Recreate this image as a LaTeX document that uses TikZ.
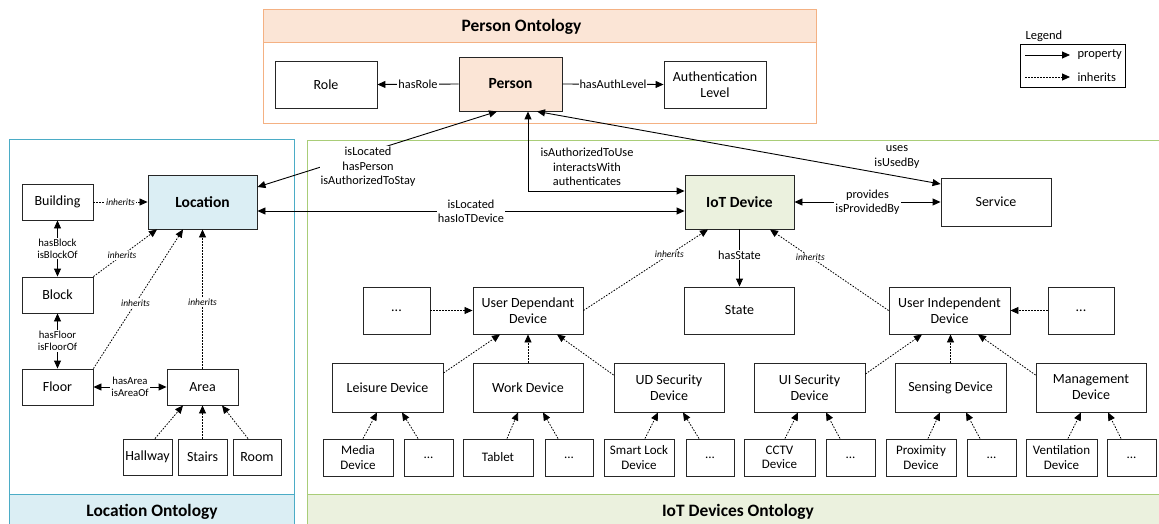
\documentclass[tikz,border=0pt]{standalone}
\usepackage{fontspec}
\setmainfont{Carlito}
\usetikzlibrary{arrows.meta}
\definecolor{perfill}{RGB}{251,229,214}
\definecolor{perline}{RGB}{244,177,131}
\definecolor{locfill}{RGB}{219,238,244}
\definecolor{locline}{RGB}{75,172,198}
\definecolor{iotfill}{RGB}{235,241,222}
\definecolor{iotline}{RGB}{169,205,120}
\tikzset{
  box/.style={draw=black!85, line width=0.9pt, fill=white, align=center, inner sep=1pt, font=\fontsize{14}{16}\selectfont},
  smallbox/.style={box, font=\fontsize{13}{14.5}\selectfont},
  mainbox/.style={box, font=\fontsize{15.5}{18}\selectfont\bfseries},
  prop/.style={line width=0.9pt, -{Triangle[length=8pt,width=7pt]}},
  bprop/.style={line width=0.9pt, {Triangle[length=8pt,width=7pt]}-{Triangle[length=8pt,width=7pt]}},
  inh/.style={line width=0.8pt, dash pattern=on 1.6pt off 1.4pt, -{Triangle[length=8pt,width=7pt]}},
  elab/.style={fill=white, inner sep=1pt, align=center, font=\fontsize{12.3}{14.3}\selectfont},
  slab/.style={fill=white, inner sep=1pt, align=center, font=\fontsize{10.7}{12}\selectfont},
  ilab/.style={fill=white, inner sep=1pt, font=\fontsize{9.5}{10.5}\selectfont\itshape},
  title/.style={font=\fontsize{17.4}{20}\selectfont\bfseries},
  legtext/.style={anchor=west, font=\fontsize{12.5}{14}\selectfont},
}
\begin{document}
\begin{tikzpicture}[x=1pt,y=-1pt]
\useasboundingbox (0,0) rectangle (1159,524);
% frames
\draw[perline, line width=1pt, fill=perfill] (263,10) rectangle (816,43);
\draw[perline, line width=1pt] (263,10) rectangle (816,124);
\node[title] (pertitle) at (521.5,27) {Person Ontology};
\draw[locline, line width=1pt, fill=locfill] (9,494) rectangle (294,530);
\draw[locline, line width=1pt] (9,140) rectangle (294,530);
\node[title] (loctitle) at (152,512) {Location Ontology};
\draw[iotline, line width=1pt, fill=iotfill] (307,494) rectangle (1165,530);
\draw[iotline, line width=1pt] (307,141) rectangle (1165,530);
\node[title] (iottitle) at (738,512) {IoT Devices Ontology};
% legend
\node[legtext] (legtitle) at (1022,36) {Legend};
\draw[line width=0.9pt] (1020,44) rectangle (1125,87);
\coordinate (l1a) at (1025,55); \coordinate (l1b) at (1070,55);
\coordinate (l2a) at (1025,77); \coordinate (l2b) at (1070,77);
\draw[prop] (l1a) -- (l1b);
\draw[inh] (l2a) -- (l2b);
\node[legtext] (legp) at (1074,55) {property};
\node[legtext] (legi) at (1074,77) {inherits};
% person ontology
\node[box, minimum width=102pt, minimum height=47pt] (role) at (326,84.5) {Role};
\node[mainbox, fill=perfill, minimum width=103pt, minimum height=54pt] (person) at (510.5,84) {Person};
\node[box, minimum width=102pt, minimum height=47pt] (auth) at (715,84.5) {Authentication\\Level};
\draw[prop] (person.west) -- node[elab]{hasRole} (role.east);
\draw[prop] (person.east) -- node[elab]{hasAuthLevel} (auth.west);
% location ontology
\node[mainbox, fill=locfill, minimum width=109pt, minimum height=54pt] (loc) at (202.5,202) {Location};
\node[box, minimum width=71pt, minimum height=36pt] (building) at (57.5,202) {Building};
\node[box, minimum width=71pt, minimum height=36pt] (block) at (57.5,295) {Block};
\node[box, minimum width=71pt, minimum height=36pt] (floor) at (57.5,387) {Floor};
\node[box, minimum width=71pt, minimum height=36pt] (area) at (202.5,387) {Area};
\node[box, minimum width=49pt, minimum height=36pt] (hallway) at (147.5,457) {Hallway};
\node[box, minimum width=49pt, minimum height=36pt] (stairs) at (202.5,457) {Stairs};
\node[box, minimum width=48pt, minimum height=36pt] (room) at (257,457) {Room};
\draw[inh] (building.east) -- node[ilab]{inherits} (loc.west);
\draw[bprop] (building.south) -- node[slab]{hasBlock\\isBlockOf} (block.north);
\draw[bprop] (block.south) -- node[slab]{hasFloor\\isFloorOf} (floor.north);
\draw[bprop] (floor.east) -- node[slab]{hasArea\\isAreaOf} (area.west);
\draw[inh] (block.north east) -- node[ilab, pos=0.45]{inherits} ([xshift=-45.5pt]loc.south);
\draw[inh] (floor.north east) -- node[ilab, pos=0.47]{inherits} ([xshift=-19.5pt]loc.south);
\draw[inh] (area.north) -- node[ilab, pos=0.48]{inherits} (loc.south);
\draw[inh] ([xshift=7.5pt]hallway.north) -- ([xshift=-19.5pt]area.south);
\draw[inh] (stairs.north) -- (area.south);
\draw[inh] ([xshift=-9pt]room.north) -- ([xshift=19.5pt]area.south);
% IoT ontology
\node[mainbox, fill=iotfill, minimum width=109pt, minimum height=54pt] (iot) at (739.5,202) {IoT Device};
\node[box, minimum width=110pt, minimum height=48pt] (service) at (996,202) {Service};
\node[box, minimum width=110pt, minimum height=47pt] (state) at (739.5,310.5) {State};
\node[box, minimum width=110pt, minimum height=47pt] (udd) at (528,310.5) {User Dependant\\Device};
\node[box, minimum width=67pt, minimum height=47pt] (dotsl) at (396.5,310.5) {...};
\node[box, minimum width=121pt, minimum height=47pt] (uid) at (949.5,310.5) {User Independent\\Device};
\node[box, minimum width=66pt, minimum height=47pt] (dotsr) at (1081,310.5) {...};
\node[box, minimum width=111pt, minimum height=49pt] (leisure) at (387.5,387.5) {Leisure Device};
\node[box, minimum width=110pt, minimum height=49pt] (work) at (528,387.5) {Work Device};
\node[box, minimum width=110pt, minimum height=49pt] (udsec) at (669,387.5) {UD Security\\Device};
\node[box, minimum width=111pt, minimum height=49pt] (uisec) at (809.5,387.5) {UI Security\\Device};
\node[box, minimum width=111pt, minimum height=49pt] (sensing) at (950.5,387.5) {Sensing Device};
\node[box, minimum width=110pt, minimum height=49pt] (mgmt) at (1091,387.5) {Management\\Device};
\node[smallbox, minimum width=70pt, minimum height=37pt] (media) at (358,457.5) {Media\\Device};
\node[smallbox, minimum width=49pt, minimum height=37pt] (d1) at (428.5,457.5) {...};
\node[smallbox, minimum width=70pt, minimum height=37pt] (tablet) at (498,457.5) {Tablet};
\node[smallbox, minimum width=48pt, minimum height=37pt] (d2) at (569,457.5) {...};
\node[smallbox, minimum width=70pt, minimum height=37pt] (lock) at (639,457.5) {Smart Lock\\Device};
\node[smallbox, minimum width=48pt, minimum height=37pt] (d3) at (710,457.5) {...};
\node[smallbox, minimum width=71pt, minimum height=37pt] (cctv) at (779.5,457.5) {CCTV\\Device};
\node[smallbox, minimum width=49pt, minimum height=37pt] (d4) at (850.5,457.5) {...};
\node[smallbox, minimum width=70pt, minimum height=37pt] (prox) at (921,457.5) {Proximity\\Device};
\node[smallbox, minimum width=49pt, minimum height=37pt] (d5) at (991.5,457.5) {...};
\node[smallbox, minimum width=71pt, minimum height=37pt] (vent) at (1061.5,457.5) {Ventilation\\Device};
\node[smallbox, minimum width=49pt, minimum height=37pt] (d6) at (1131.5,457.5) {...};
% cross-ontology properties
\draw[bprop] ([yshift=15pt]loc.east) -- ([xshift=-13.5pt]person.south);
\node[elab] (lablocper) at (368,167) {isLocated\\hasPerson\\isAuthorizedToStay};
\draw[bprop] ([xshift=17.5pt]person.south) |- ([yshift=11pt]iot.west);
\node[elab] (labperiot) at (587,167) {isAuthorizedToUse\\interactsWith\\authenticates};
\draw[bprop] ([yshift=-9pt]loc.east) -- node[elab, pos=0.5]{isLocated\\hasIoTDevice} ([yshift=-9pt]iot.west);
\draw[bprop] ([xshift=26.5pt]person.south) -- ([yshift=18pt]service.west);
\node[elab] (labuses) at (897,157) {uses\\isUsedBy};
\draw[bprop] (iot.east) -- node[elab]{provides\\isProvidedBy} (service.west);
\draw[prop] (iot.south) -- node[elab, pos=0.45]{hasState} (state.north);
% inheritance in IoT
\draw[inh] (udd.east) -- node[ilab, pos=0.69]{inherits} ([xshift=-31.5pt]iot.south);
\draw[inh] (uid.west) -- node[ilab, pos=0.66]{inherits} ([xshift=30.5pt]iot.south);
\draw[inh] (dotsl.east) -- (udd.west);
\draw[inh] (dotsr.west) -- (uid.east);
\draw[inh] ([yshift=14.5pt]leisure.east) -- ([xshift=-28pt]udd.south);
\draw[inh] (work.north) -- (udd.south);
\draw[inh] ([yshift=12.5pt]udsec.west) -- ([xshift=29pt]udd.south);
\draw[inh] ([yshift=13.5pt]uisec.east) -- ([xshift=-27.5pt]uid.south);
\draw[inh] (sensing.north) -- (sensing.north |- uid.south);
\draw[inh] ([yshift=12.5pt]mgmt.west) -- ([xshift=28.5pt]uid.south);
\draw[inh] ([xshift=5pt]media.north) -- ([xshift=-10.5pt]leisure.south);
\draw[inh] ([xshift=-10.5pt]d1.north) -- ([xshift=14.5pt]leisure.south);
\draw[inh] ([xshift=9pt]tablet.north) -- ([xshift=-10pt]work.south);
\draw[inh] ([xshift=-11pt]d2.north) -- ([xshift=15pt]work.south);
\draw[inh] ([xshift=6pt]lock.north) -- ([xshift=-11pt]udsec.south);
\draw[inh] ([xshift=-11pt]d3.north) -- ([xshift=14pt]udsec.south);
\draw[inh] ([xshift=5.5pt]cctv.north) -- ([xshift=-11.5pt]uisec.south);
\draw[inh] ([xshift=-10.5pt]d4.north) -- ([xshift=16.5pt]uisec.south);
\draw[inh] ([xshift=7pt]prox.north) -- ([xshift=-10.5pt]sensing.south);
\draw[inh] ([xshift=-11.5pt]d5.north) -- ([xshift=15.5pt]sensing.south);
\draw[inh] ([xshift=6.5pt]vent.north) -- ([xshift=-10pt]mgmt.south);
\draw[inh] ([xshift=-10.5pt]d6.north) -- ([xshift=17pt]mgmt.south);
\end{tikzpicture}
\end{document}
